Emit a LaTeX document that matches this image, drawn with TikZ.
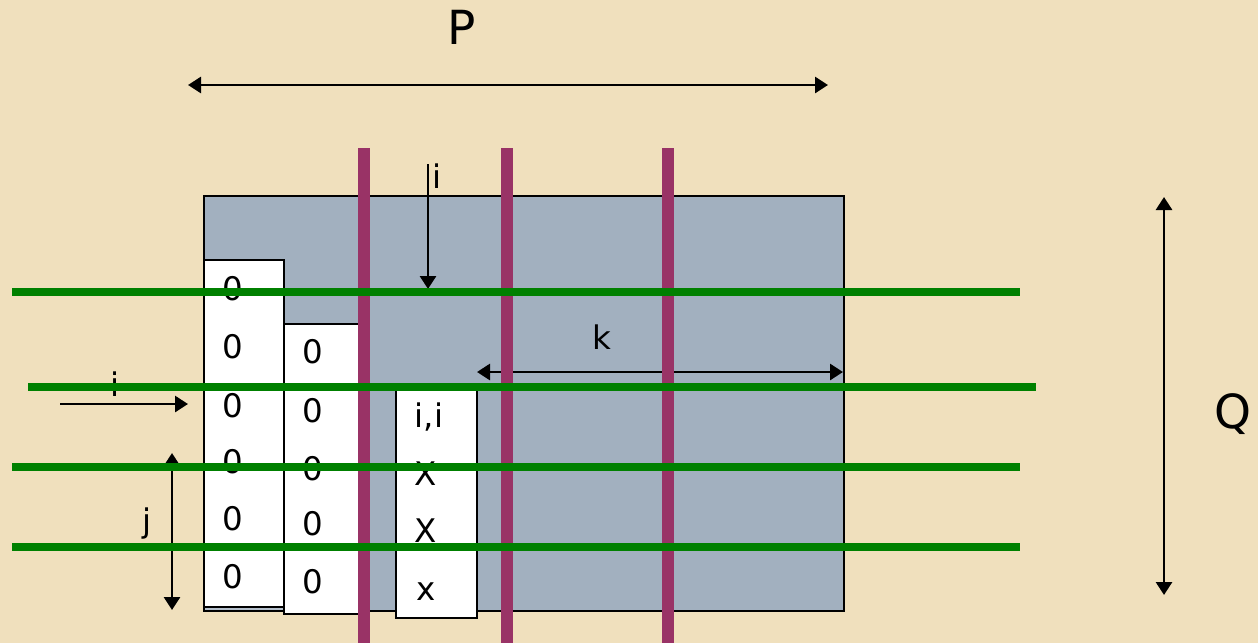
\documentclass[tikz,border=0pt]{standalone}
\usepackage{fontspec}
\setmainfont{DejaVu Sans}
\usetikzlibrary{arrows.meta}
\definecolor{parchment}{RGB}{240,224,189}
\definecolor{slate}{RGB}{162,176,191}
\definecolor{plum}{RGB}{153,51,102}
\definecolor{leaf}{RGB}{0,128,0}
\tikzset{
  cell/.style={draw=black, line width=2pt, fill=white},
  entry/.style={anchor=base, inner sep=0pt, font=\fontsize{32.5}{32.5}\selectfont},
  biglabel/.style={anchor=base, inner sep=0pt, font=\fontsize{47}{47}\selectfont},
  onetip/.style={line width=2.8pt, -{Triangle[length=13pt,width=16pt]}},
  twotips/.style={line width=2.8pt, {Triangle[length=13pt,width=16pt]}-{Triangle[length=13pt,width=16pt]}},
  rail/.style={draw=plum, line width=12pt},
  wire/.style={draw=leaf, line width=8pt},
}
\begin{document}
\begin{tikzpicture}[x=1pt,y=-1pt]
  % page and parchment ground
  \useasboundingbox (0,0) rectangle (1258,643);
  \fill[parchment] (0,0) rectangle (1258,643);

  % the array block
  \draw[fill=slate, line width=1.6pt] (204,196) rectangle (844,611);

  % stacked columns
  \draw[cell, fill=slate!80!white] (204,260) rectangle (284,611);
  \draw[cell] (204,260) rectangle (284,607);
  \draw[cell] (284,324) rectangle (362,614);
  \draw[cell] (396,388) rectangle (477,618);

  % first column entries
  \node[entry] (a1) at (233,300) {0};
  \node[entry] (a2) at (233,358) {0};
  \node[entry] (a3) at (233,417) {0};
  \node[entry] (a4) at (233,473) {0};
  \node[entry] (a5) at (233,530) {0};
  \node[entry] (a6) at (233,588) {0};
  % second column entries
  \node[entry] (b2) at (313,363) {0};
  \node[entry] (b3) at (313,422) {0};
  \node[entry] (b4) at (313,480) {0};
  \node[entry] (b5) at (313,535) {0};
  \node[entry] (b6) at (313,593) {0};
  % third column entries
  \node[entry] (c3) at (429,427) {i,i};
  \node[entry] (c4) at (426,485) {X};
  \node[entry] (c5) at (426,542) {X};
  \node[entry] (c6) at (426,600) {x};

  % labels
  \node[biglabel] (lP) at (462,44) {P};
  \node[biglabel] (lQ) at (1233,428) {Q};
  \node[entry] (lk) at (602,349) {k};
  \node[entry] (liTop) at (437,188) {i};
  \node[entry] (liLeft) at (115,396) {i};
  \node[entry, anchor=center] (lj) at (147,524) {j};

  % dimension arrows
  \coordinate (pL) at (188,85);   \coordinate (pR) at (828,85);
  \coordinate (qT) at (1164,197); \coordinate (qB) at (1164,595);
  \coordinate (kL) at (477,372);  \coordinate (kR) at (843,372);
  \coordinate (iT) at (428,164);  \coordinate (iB) at (428,289);
  \coordinate (hL) at (60,404);   \coordinate (hR) at (188,404);
  \coordinate (jT) at (172,453);  \coordinate (jB) at (172,610);
  \draw[twotips] (pL) -- (pR);
  \draw[twotips] (qT) -- (qB);
  \draw[twotips] (kL) -- (kR);
  \draw[onetip] (iT) -- (iB);
  \draw[onetip] (hL) -- (hR);
  \draw[twotips] (jT) -- (jB);

  % vertical partition lines
  \coordinate (r1t) at (364,148); \coordinate (r1b) at (364,643);
  \coordinate (r2t) at (507,148); \coordinate (r2b) at (507,643);
  \coordinate (r3t) at (668,148); \coordinate (r3b) at (668,643);
  \draw[rail] (r1t) -- (r1b);
  \draw[rail] (r2t) -- (r2b);
  \draw[rail] (r3t) -- (r3b);

  % horizontal partition lines
  \coordinate (w1l) at (12,292);  \coordinate (w1r) at (1020,292);
  \coordinate (w2l) at (28,387);  \coordinate (w2r) at (1036,387);
  \coordinate (w3l) at (12,467);  \coordinate (w3r) at (1020,467);
  \coordinate (w4l) at (12,547);  \coordinate (w4r) at (1020,547);
  \draw[wire] (w1l) -- (w1r);
  \draw[wire] (w2l) -- (w2r);
  \draw[wire] (w3l) -- (w3r);
  \draw[wire] (w4l) -- (w4r);
\end{tikzpicture}
\end{document}
